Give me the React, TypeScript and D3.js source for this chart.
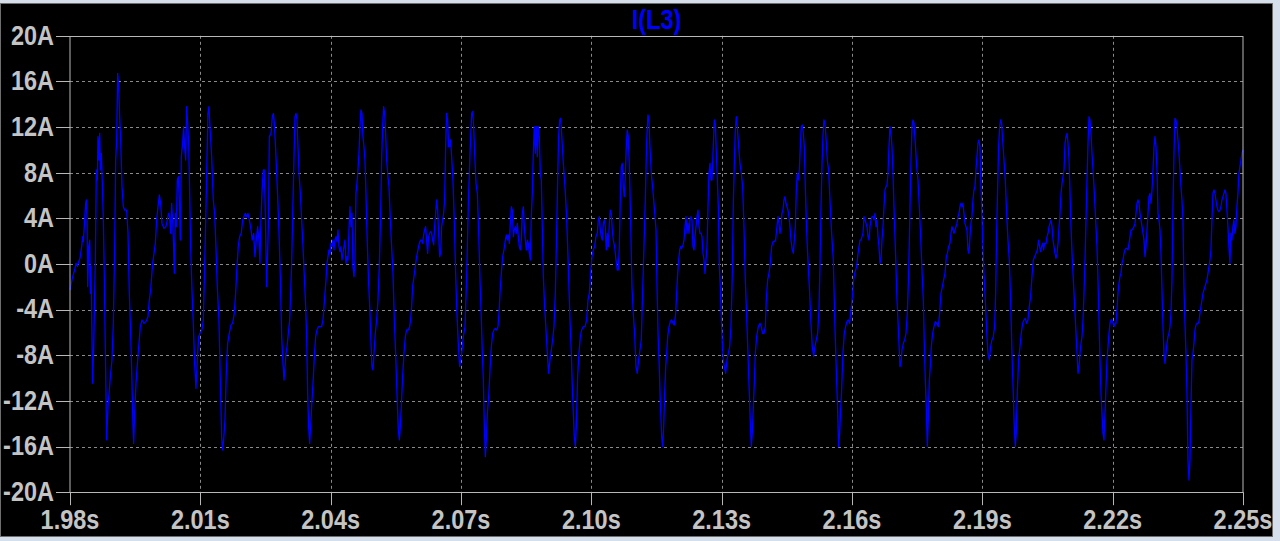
import React from 'react';
import * as d3 from 'd3';

// Time in milliseconds, current in amperes
const xTicksMs = [1980, 2010, 2040, 2070, 2100, 2130, 2160, 2190, 2220, 2250];
const yTicksA = [20, 16, 12, 8, 4, 0, -4, -8, -12, -16, -20];
const seriesName = 'I(L3)';

const seg1: [number, number][] = [
[1980.00,-2.28],[1980.15,-1.99],[1980.61,-1.11],[1981.07,-0.53],[1981.38,0.06],[1981.69,-0.23],[1981.99,0.20],[1982.30,0.50],[1982.68,1.52],[1982.91,2.40],[1983.07,1.96],[1983.37,3.86],[1983.60,5.32],[1983.76,5.61],[1983.91,4.15],[1984.07,-1.99],[1984.30,1.52],[1984.53,2.10],[1984.68,-2.57],[1984.83,-0.23],[1984.99,-4.62],[1985.22,-10.46],[1985.45,-7.25],[1985.68,-2.57],[1985.83,0.35],[1986.06,8.24],[1986.29,7.36],[1986.44,11.16],[1986.67,9.11],[1986.83,11.45],[1986.98,8.24],[1987.21,9.70],[1987.44,7.07],[1987.67,3.86],[1987.90,-1.11],[1988.13,-7.54],[1988.44,-15.42],[1988.74,-12.50],[1989.05,-11.04],[1989.36,-9.58],[1989.66,-8.41],[1989.97,-5.20],[1990.28,1.52],[1990.51,9.11],[1990.74,10.87],[1990.97,16.71],[1991.20,15.54],[1991.43,12.91],[1991.66,10.87],[1991.97,6.78],[1992.27,5.02],[1992.58,4.73],[1993.04,4.73],[1993.35,2.69],[1993.65,-2.57],[1993.96,-6.08],[1994.27,-10.46],[1994.50,-14.26],[1994.65,-15.72],[1994.88,-13.09],[1995.19,-10.46],[1995.57,-8.41],[1995.88,-6.95],[1996.18,-5.49],[1996.57,-4.91],[1997.03,-5.20],[1997.49,-5.05],[1997.95,-4.62],[1998.25,-3.16],[1998.56,-2.28],[1999.02,0.06],[1999.33,0.93],[1999.64,1.81],[1999.94,3.86],[2000.25,5.02],[2000.56,6.05],[2000.86,5.32],[2001.17,3.56],[2001.63,3.13],[2002.09,3.27],[2002.40,3.86],[2002.70,4.44],[2002.93,4.15],[2003.16,2.69],[2003.39,5.32],[2003.62,3.86],[2003.85,1.52],[2004.01,-0.82],[2004.24,4.44],[2004.47,3.27],[2004.70,7.36],[2004.93,7.65],[2005.16,5.61],[2005.39,2.10],[2005.62,9.41],[2005.92,10.58],[2006.15,12.04],[2006.38,10.28],[2006.61,9.11],[2006.85,13.79],[2007.08,12.33],[2007.31,10.58],[2007.54,6.19],[2007.77,1.52],[2008.07,-2.28],[2008.38,-5.20],[2008.69,-8.71],[2008.99,-10.90],[2009.30,-8.41],[2009.61,-6.37],[2009.91,-6.08],[2010.37,-5.78],[2010.68,-4.91],[2010.99,-0.23],[2011.29,4.73],[2011.52,9.11],[2011.75,13.20],[2011.98,13.79],[2012.21,12.04],[2012.60,9.41],[2012.98,5.61],[2013.29,4.44],[2013.59,1.52],[2013.90,-1.99],[2014.28,-4.91],[2014.67,-11.33],[2014.90,-15.13],[2015.13,-16.30],[2015.36,-15.42],[2015.67,-13.67],[2015.97,-9.58],[2016.28,-6.95],[2016.66,-6.08],[2017.05,-5.35],[2017.43,-5.20],[2017.81,-4.32],[2018.12,-2.57],[2018.43,-0.23],[2018.73,1.52],[2019.04,2.40],[2019.42,2.69],[2019.73,3.86],[2020.04,4.15],[2020.34,4.44],[2020.65,4.15],[2020.96,4.44],[2021.26,3.86],[2021.57,3.27],[2021.95,2.10],[2022.26,2.69],[2022.57,0.64],[2022.88,2.10],[2023.18,3.27],[2023.49,2.10],[2023.72,0.06],[2023.95,3.86],[2024.18,6.19],[2024.49,8.24],[2024.72,8.24]
];

const seg2: [number, number][] = [
[2024.89,5.61],[2025.27,-1.99],[2025.65,3.27],[2025.88,11.16],[2026.27,11.45],[2026.57,12.91],[2026.80,13.20],[2027.03,12.33],[2027.34,9.99],[2027.57,7.95],[2027.80,5.90],[2028.11,2.69],[2028.41,-1.11],[2028.72,-6.37],[2029.03,-8.71],[2029.26,-10.17],[2029.49,-9.00],[2029.72,-7.83],[2029.95,-7.25],[2030.25,-6.08],[2030.56,-4.91],[2030.79,-2.57],[2031.02,0.06],[2031.33,5.61],[2031.56,9.41],[2031.79,12.91],[2032.02,13.20],[2032.25,12.62],[2032.48,10.28],[2032.71,7.95],[2033.02,6.19],[2033.32,3.86],[2033.63,1.52],[2033.94,-1.11],[2034.24,-3.74],[2034.47,-6.37],[2034.70,-11.33],[2034.93,-14.26],[2035.16,-15.72],[2035.39,-14.26],[2035.62,-12.50],[2035.93,-10.46],[2036.24,-8.12],[2036.54,-6.37],[2036.85,-5.78],[2037.16,-5.49],[2037.54,-5.49],[2037.92,-5.49],[2038.23,-4.91],[2038.46,-3.74],[2038.69,-2.57],[2038.92,-1.40],[2039.15,0.06],[2039.38,0.64],[2039.61,1.23],[2039.84,0.93],[2040.07,1.81],[2040.30,1.52],[2040.53,2.10],[2040.76,1.23],[2040.99,2.10],[2041.22,2.40],[2041.45,1.96],[2041.68,2.98],[2041.91,1.52],[2042.14,1.08],[2042.37,1.52],[2042.60,0.35],[2042.83,0.93],[2043.06,1.52],[2043.29,2.10],[2043.52,0.06],[2043.75,0.64],[2043.98,0.35],[2044.21,2.98],[2044.44,5.02],[2044.67,3.27],[2044.90,4.44],[2045.13,-0.23],[2045.36,-1.11],[2045.59,0.35],[2045.82,6.19],[2046.05,7.07],[2046.28,8.24],[2046.51,9.70],[2046.74,12.04],[2046.97,13.50],[2047.20,13.20],[2047.43,11.16],[2047.66,10.28],[2047.89,9.11],[2048.12,6.19],[2048.43,1.81],[2048.74,-1.69],[2049.05,-4.32],[2049.28,-6.95],[2049.51,-9.00],[2049.74,-9.29],[2049.97,-7.83],[2050.27,-6.08],[2050.58,-4.91],[2050.89,-3.16],[2051.19,-0.23],[2051.50,4.44],[2051.73,9.11],[2051.96,12.04],[2052.19,13.79],[2052.42,13.20],[2052.65,11.45],[2052.88,9.11],[2053.11,7.95],[2053.42,6.78],[2053.73,3.86],[2054.03,1.52],[2054.34,-0.82],[2054.65,-4.91],[2054.95,-7.83],[2055.26,-11.33],[2055.57,-14.55],[2055.80,-15.42],[2056.03,-14.26],[2056.26,-12.50],[2056.56,-9.87],[2056.87,-7.83],[2057.18,-6.37],[2057.48,-5.78],[2057.87,-5.78],[2058.17,-5.49],[2058.40,-4.91],[2058.63,-3.74],[2058.86,-1.99],[2059.17,-1.11],[2059.48,-0.23],[2059.78,0.64],[2060.09,1.23],[2060.40,1.81],[2060.70,2.10],[2060.93,2.10],[2061.16,1.81],[2061.39,2.54],[2061.62,2.98],[2061.85,3.27],[2062.08,2.10],[2062.31,0.93],[2062.54,2.40],[2062.78,2.69],[2063.01,2.83],[2063.24,2.69],[2063.47,2.10],[2063.70,1.67],[2063.93,3.27],[2064.16,4.44],[2064.39,5.61],[2064.62,4.73],[2064.85,2.69],[2065.08,0.64],[2065.31,0.93],[2065.54,3.27],[2065.77,3.86],[2066.00,4.44],[2066.23,5.61],[2066.46,10.28],[2066.69,13.20],[2066.92,12.62],[2067.15,10.28],[2067.38,10.28],[2067.61,10.87],[2067.84,9.41],[2068.14,7.36],[2068.45,3.86],[2068.76,-0.82],[2069.06,-4.32],[2069.37,-6.95],[2069.68,-9.00]
];

const seg3: [number, number][] = [
[2070.15,-7.83],[2070.54,-6.37],[2070.92,-5.49],[2071.30,-1.11],[2071.69,5.32],[2072.07,9.70],[2072.45,13.20],[2072.68,13.35],[2072.91,12.04],[2073.14,9.70],[2073.45,7.07],[2073.76,6.19],[2074.07,2.69],[2074.37,-1.40],[2074.68,-4.91],[2074.91,-7.83],[2075.14,-10.17],[2075.37,-14.26],[2075.60,-16.89],[2075.83,-15.42],[2076.06,-13.09],[2076.37,-11.63],[2076.67,-9.29],[2076.98,-7.25],[2077.29,-6.08],[2077.59,-5.78],[2077.90,-5.64],[2078.21,-5.78],[2078.51,-5.49],[2078.74,-4.32],[2078.97,-2.57],[2079.28,-0.82],[2079.59,0.64],[2079.89,1.23],[2080.20,2.10],[2080.43,2.54],[2080.66,2.10],[2080.89,2.54],[2081.12,1.81],[2081.35,3.56],[2081.58,5.02],[2081.81,4.73],[2082.04,2.40],[2082.27,2.98],[2082.50,3.27],[2082.73,2.69],[2082.96,3.56],[2083.19,2.40],[2083.42,1.52],[2083.65,1.23],[2083.88,2.10],[2084.11,4.44],[2084.34,5.02],[2084.57,3.27],[2084.80,2.10],[2085.03,1.23],[2085.26,2.10],[2085.49,1.81],[2085.72,0.93],[2085.95,0.35],[2086.18,4.15],[2086.41,6.19],[2086.64,9.70],[2086.87,12.04],[2087.10,9.70],[2087.33,12.04],[2087.56,9.41],[2087.79,12.04],[2088.02,11.16],[2088.25,7.95],[2088.48,7.36],[2088.71,3.27],[2088.95,-1.11],[2089.25,-3.74],[2089.56,-5.78],[2089.87,-7.83],[2090.17,-9.58],[2090.48,-8.41],[2090.79,-7.54],[2091.09,-6.66],[2091.40,-5.49],[2091.71,-2.57],[2092.01,2.69],[2092.24,7.36],[2092.47,11.16],[2092.70,12.62],[2092.93,12.77],[2093.16,11.45],[2093.55,8.82],[2093.93,6.78],[2094.31,4.15],[2094.70,-0.23],[2095.08,-4.91],[2095.39,-7.83],[2095.62,-10.75],[2095.85,-13.09],[2096.08,-15.13],[2096.31,-16.01],[2096.54,-14.26],[2096.84,-9.87],[2097.15,-7.83],[2097.46,-6.37],[2097.77,-5.78],[2098.15,-5.49],[2098.53,-5.49],[2098.92,-4.91],[2099.22,-3.16],[2099.53,-2.57],[2099.84,-0.82],[2100.14,0.64],[2100.45,1.23],[2100.76,1.52],[2101.06,2.40],[2101.37,2.69],[2101.60,3.86],[2101.83,4.15],[2102.06,2.98],[2102.29,2.40],[2102.52,2.10],[2102.75,3.56],[2102.98,3.86],[2103.21,3.27],[2103.44,1.23],[2103.67,2.69],[2103.90,1.52],[2104.13,3.56],[2104.36,4.73],[2104.59,4.44],[2104.82,2.98],[2105.05,2.10],[2105.36,1.52],[2105.67,0.35],[2105.97,-0.53],[2106.20,-0.53],[2106.43,1.52],[2106.66,5.61],[2106.89,8.53],[2107.12,8.82],[2107.35,6.78],[2107.58,5.90],[2107.81,7.65],[2108.04,10.28],[2108.27,11.74],[2108.50,11.16],[2108.73,8.82],[2109.04,3.86],[2109.35,-1.99],[2109.65,-4.32],[2109.96,-6.08],[2110.27,-9.00],[2110.57,-9.58],[2110.88,-8.41],[2111.19,-7.54],[2111.49,-6.66],[2111.80,-2.57],[2112.11,1.52],[2112.42,5.61],[2112.72,10.58],[2113.03,13.06],[2113.26,12.62],[2113.49,10.28],[2113.80,7.95],[2114.10,6.78],[2114.41,5.32]
];

const seg4: [number, number][] = [
[2114.89,2.98],[2115.12,-1.99],[2115.35,-6.08],[2115.58,-8.41],[2115.81,-11.33],[2116.04,-13.67],[2116.19,-15.13],[2116.42,-16.01],[2116.65,-14.26],[2116.88,-11.33],[2117.11,-9.00],[2117.34,-7.83],[2117.57,-6.37],[2117.88,-5.49],[2118.18,-5.05],[2118.49,-4.91],[2118.80,-5.20],[2119.10,-5.35],[2119.41,-4.32],[2119.64,-2.57],[2119.87,-0.82],[2120.10,0.35],[2120.33,1.23],[2120.56,1.52],[2120.79,1.37],[2121.10,1.67],[2121.33,2.10],[2121.56,3.27],[2121.79,4.15],[2122.02,2.69],[2122.25,3.56],[2122.48,2.69],[2122.71,3.86],[2122.94,4.15],[2123.17,3.86],[2123.40,1.52],[2123.63,1.23],[2123.86,2.40],[2124.09,3.27],[2124.32,4.15],[2124.55,4.73],[2124.78,3.27],[2125.01,2.69],[2125.24,2.69],[2125.47,2.40],[2125.70,0.93],[2125.93,0.35],[2126.16,-0.82],[2126.39,0.35],[2126.62,1.52],[2126.85,5.02],[2127.08,7.95],[2127.31,8.82],[2127.54,7.36],[2127.77,7.36],[2128.00,9.70],[2128.31,12.62],[2128.54,12.33],[2128.77,9.70],[2129.00,7.36],[2129.23,5.02],[2129.46,-0.23],[2129.69,-1.99],[2129.92,-4.91],[2130.15,-6.95],[2130.38,-8.41],[2130.61,-9.00],[2130.92,-9.58],[2131.22,-8.41],[2131.53,-7.83],[2131.84,-7.25],[2132.14,-5.49],[2132.45,-0.82],[2132.68,5.32],[2132.91,8.82],[2133.14,11.74],[2133.37,12.91],[2133.60,12.04],[2133.91,10.28],[2134.21,8.82],[2134.52,7.95],[2134.83,6.78],[2135.13,3.27],[2135.44,-1.40],[2135.75,-4.62],[2136.05,-7.83],[2136.36,-11.33],[2136.59,-13.96],[2136.82,-16.01],[2137.05,-14.84],[2137.28,-12.50],[2137.51,-10.46],[2137.74,-7.83],[2138.05,-6.37],[2138.43,-5.49],[2138.82,-5.20],[2139.12,-5.49],[2139.43,-6.08],[2139.74,-6.08],[2140.04,-5.49],[2140.27,-3.16],[2140.58,-1.40],[2140.89,-0.82],[2141.19,0.06],[2141.50,1.52],[2141.81,1.96],[2142.11,1.96],[2142.42,2.10],[2142.73,3.27],[2142.96,4.15],[2143.19,3.56],[2143.42,2.69],[2143.65,3.27],[2143.88,4.44],[2144.11,4.73],[2144.34,5.61],[2144.57,5.90],[2144.80,5.32],[2145.03,5.02],[2145.26,4.73],[2145.49,4.15],[2145.72,3.27],[2145.95,2.10],[2146.26,1.23],[2146.49,0.93],[2146.72,2.10],[2146.95,3.27],[2147.18,6.49],[2147.41,7.95],[2147.64,7.36],[2147.87,8.24],[2148.10,10.28],[2148.33,12.04],[2148.56,12.18],[2148.79,11.45],[2149.02,10.28],[2149.25,6.78],[2149.48,3.86],[2149.71,1.52],[2149.94,-0.23],[2150.25,-2.57],[2150.55,-5.20],[2150.86,-7.25],[2151.17,-8.12],[2151.47,-7.25],[2151.78,-6.66],[2152.09,-6.08],[2152.39,-4.03],[2152.62,-0.23],[2152.85,4.73],[2153.08,8.53],[2153.31,11.16],[2153.54,12.62],[2153.77,12.33],[2154.00,11.16],[2154.31,9.11],[2154.62,8.24],[2154.92,5.61],[2155.31,2.69],[2155.69,0.35],[2156.07,-5.49],[2156.46,-10.17],[2156.69,-12.79],[2156.92,-16.01],[2157.15,-14.84],[2157.38,-12.79],[2157.61,-11.04],[2157.91,-7.83],[2158.22,-6.08],[2158.53,-5.49],[2158.83,-5.05],[2159.14,-4.91],[2159.45,-5.20]
];

const seg5: [number, number][] = [
[2160.15,-2.57],[2160.38,-1.40],[2160.61,-0.82],[2160.84,-0.53],[2161.07,-0.23],[2161.38,0.93],[2161.61,1.52],[2161.84,2.10],[2162.07,2.10],[2162.30,2.40],[2162.53,2.69],[2162.76,4.15],[2162.99,3.86],[2163.22,3.56],[2163.45,3.27],[2163.68,2.40],[2163.91,2.10],[2164.14,3.27],[2164.37,3.86],[2164.60,4.15],[2164.83,4.15],[2165.06,3.86],[2165.29,4.44],[2165.52,3.27],[2165.75,3.86],[2165.98,2.40],[2166.21,1.52],[2166.44,0.06],[2166.67,0.35],[2166.90,2.10],[2167.13,3.27],[2167.36,5.02],[2167.59,6.49],[2167.82,6.78],[2168.05,6.92],[2168.28,7.95],[2168.51,10.28],[2168.74,12.04],[2168.97,11.45],[2169.20,10.28],[2169.43,7.95],[2169.66,5.02],[2169.89,2.40],[2170.12,-0.23],[2170.35,-3.16],[2170.58,-4.91],[2170.81,-6.95],[2171.04,-9.00],[2171.27,-8.71],[2171.50,-7.54],[2171.81,-6.95],[2172.12,-6.66],[2172.43,-6.08],[2172.73,-4.32],[2173.04,-0.82],[2173.35,5.02],[2173.58,9.11],[2173.81,12.04],[2174.04,12.62],[2174.27,12.33],[2174.57,10.58],[2174.88,8.53],[2175.19,7.36],[2175.49,5.02],[2175.80,2.40],[2176.11,-0.53],[2176.41,-3.16],[2176.64,-6.95],[2176.87,-10.17],[2177.10,-12.50],[2177.33,-16.01],[2177.56,-13.67],[2177.79,-10.17],[2178.02,-9.00],[2178.25,-7.25],[2178.56,-6.08],[2178.87,-5.49],[2179.17,-5.05],[2179.48,-5.20],[2179.87,-5.49],[2180.17,-4.32],[2180.48,-2.57],[2180.79,-1.99],[2181.09,-1.40],[2181.40,-0.82],[2181.71,0.64],[2181.94,0.93],[2182.24,1.52],[2182.55,1.81],[2182.78,2.69],[2183.01,3.27],[2183.24,2.98],[2183.47,2.69],[2183.70,2.98],[2183.93,3.27],[2184.16,3.56],[2184.39,4.15],[2184.62,4.44],[2184.85,5.02],[2185.08,5.32],[2185.31,5.02],[2185.54,5.32],[2185.77,4.44],[2186.00,3.56],[2186.23,3.27],[2186.46,2.98],[2186.69,1.23],[2186.92,0.93],[2187.15,2.40],[2187.38,3.56],[2187.61,4.15],[2187.84,5.61],[2188.07,6.49],[2188.30,6.78],[2188.53,8.24],[2188.76,9.41],[2188.99,10.58],[2189.22,10.87],[2189.45,10.28],[2189.68,6.78],[2189.91,4.15],[2190.14,1.52],[2190.37,-0.82],[2190.60,-2.57],[2190.83,-4.32],[2191.06,-6.37],[2191.29,-7.83],[2191.60,-8.41],[2191.91,-7.25],[2192.21,-6.66],[2192.52,-6.37],[2192.83,-5.49],[2193.06,-2.57],[2193.29,2.69],[2193.52,6.78],[2193.75,10.28],[2193.98,12.04],[2194.21,12.62],[2194.44,12.33],[2194.67,10.87],[2194.98,9.11],[2195.28,7.36],[2195.59,4.44],[2195.90,2.10],[2196.20,0.35],[2196.51,-3.16],[2196.82,-7.83],[2197.12,-11.33],[2197.35,-14.26],[2197.58,-16.01],[2197.81,-14.84],[2198.04,-11.33],[2198.35,-8.41],[2198.66,-7.25],[2198.96,-6.08],[2199.27,-5.20],[2199.58,-4.91],[2199.88,-4.76],[2200.19,-5.20],[2200.50,-4.91],[2200.80,-3.74],[2201.11,-2.86],[2201.42,-1.11],[2201.73,0.35],[2202.03,0.64],[2202.34,0.93],[2202.65,1.23],[2202.95,2.10],[2203.18,1.52],[2203.41,1.08],[2203.64,1.52],[2203.87,1.81],[2204.10,1.23],[2204.33,1.81]
];

const seg6: [number, number][] = [
[2204.66,1.81],[2204.89,2.40],[2205.12,2.69],[2205.35,3.27],[2205.58,3.56],[2205.81,3.86],[2206.04,3.27],[2206.27,2.10],[2206.50,1.52],[2206.73,0.93],[2206.96,0.50],[2207.19,0.93],[2207.42,1.81],[2207.65,3.27],[2207.88,4.44],[2208.11,6.19],[2208.34,7.07],[2208.57,7.65],[2208.80,8.24],[2209.03,10.58],[2209.26,11.16],[2209.49,11.45],[2209.72,10.58],[2209.95,9.11],[2210.18,6.19],[2210.41,3.27],[2210.64,0.93],[2210.87,-0.82],[2211.10,-2.57],[2211.33,-4.32],[2211.56,-6.08],[2211.79,-7.83],[2212.02,-9.58],[2212.25,-9.00],[2212.48,-7.83],[2212.71,-6.95],[2212.94,-6.37],[2213.17,-4.91],[2213.40,-2.57],[2213.63,0.35],[2213.86,3.86],[2214.09,7.36],[2214.32,10.58],[2214.55,12.91],[2214.78,12.62],[2215.01,11.45],[2215.24,9.70],[2215.47,8.24],[2215.70,6.78],[2215.93,5.02],[2216.16,3.27],[2216.39,1.52],[2216.62,-1.40],[2216.85,-4.91],[2217.08,-8.41],[2217.31,-11.33],[2217.54,-13.09],[2217.77,-14.84],[2218.00,-15.42],[2218.23,-13.09],[2218.46,-10.75],[2218.69,-8.41],[2218.92,-7.25],[2219.15,-6.08],[2219.38,-5.20],[2219.61,-4.91],[2219.84,-4.91],[2220.07,-5.20],[2220.30,-5.49],[2220.53,-5.20],[2220.76,-5.20],[2220.99,-4.03],[2221.22,-2.57],[2221.45,-1.69],[2221.68,-1.11],[2221.91,-0.82],[2222.14,0.06],[2222.37,0.35],[2222.60,0.93],[2222.83,1.23],[2223.06,1.37],[2223.29,1.37],[2223.53,1.23],[2223.76,1.81],[2223.99,2.40],[2224.22,2.98],[2224.45,2.98],[2224.68,3.13],[2224.91,3.27],[2225.14,3.56],[2225.37,4.44],[2225.60,5.32],[2225.83,5.61],[2226.06,5.32],[2226.29,4.44],[2226.52,3.86],[2226.75,3.27],[2226.98,2.69],[2227.21,2.10],[2227.44,0.64],[2227.67,1.52],[2227.90,2.98],[2228.13,4.44],[2228.36,5.90],[2228.59,6.19],[2228.82,5.32],[2229.05,6.49],[2229.28,8.24],[2229.51,10.28],[2229.74,11.16],[2229.97,10.28],[2230.20,8.24],[2230.43,4.44],[2230.66,3.86],[2230.89,2.98],[2231.12,0.93],[2231.35,-2.28],[2231.58,-5.49],[2231.81,-7.83],[2232.04,-8.71],[2232.27,-7.83],[2232.50,-6.95],[2232.73,-6.37],[2232.96,-6.08],[2233.19,-5.49],[2233.42,-4.32],[2233.65,-1.40],[2233.88,5.02],[2234.11,9.70],[2234.34,12.77],[2234.57,12.62],[2234.80,12.04],[2235.03,10.87],[2235.26,9.70],[2235.49,8.24],[2235.72,6.78],[2235.95,5.61],[2236.18,3.86],[2236.41,-1.99],[2236.64,-5.20],[2236.87,-7.83],[2237.10,-11.33],[2237.33,-17.18],[2237.56,-18.93],[2237.79,-17.18],[2238.02,-12.50],[2238.25,-8.41],[2238.48,-7.83],[2238.71,-6.95],[2238.94,-5.78],[2239.17,-5.35],[2239.40,-5.20],[2239.63,-5.20],[2239.86,-5.05],[2240.09,-4.32],[2240.32,-3.74],[2240.55,-3.16],[2240.78,-2.57],[2241.01,-2.28],[2241.24,-1.99],[2241.47,-1.69],[2241.70,-1.40],[2241.93,-0.82],[2242.16,-0.23],[2242.39,0.35],[2242.62,1.23],[2242.85,3.86],[2243.08,6.19],[2243.31,6.49],[2243.54,6.19],[2243.77,5.61],[2244.00,5.02],[2244.23,4.73],[2244.46,4.59],[2244.69,4.73],[2244.92,5.02],[2245.15,5.61],[2245.38,5.90],[2245.61,6.19],[2245.84,6.49],[2246.07,6.19],[2246.30,4.73],[2246.53,3.27],[2246.76,1.52],[2246.99,0.06],[2247.22,2.69],[2247.45,2.10],[2247.68,3.27],[2247.91,3.86],[2248.14,2.69],[2248.37,3.27],[2248.60,5.02],[2248.83,6.19],[2249.06,7.95],[2249.29,8.53],[2249.52,9.11],[2249.75,9.70],[2250.00,9.99]
];

const trace: [number, number][] = [...seg1, ...seg2, ...seg3, ...seg4, ...seg5, ...seg6];

export default function App() {
  const W = 1280;
  const H = 541;
  const left = 70, right = 1243, top = 35.8, bottom = 492.2;
  const x = d3.scaleLinear().domain([1980, 2250]).range([left, right]);
  const y = d3.scaleLinear().domain([-20, 20]).range([bottom, top]);
  const line = d3.line<[number, number]>().x(d => x(d[0])).y(d => y(d[1]));
  const font = '"Liberation Sans", Arial, sans-serif';
  const txt = '#c4c4c4';
  const grid = '#8a8a8a';
  const sy = 1.18;
  const fs = 23.5;
  const fmtX = (v: number) => (v / 1000).toFixed(2) + 's';

  return (
    <svg width={W} height={H} style={{ position: 'absolute', left: 0, top: 0, display: 'block' }}>
      <rect x={0} y={0} width={W} height={H} fill="#d5dfeb" />
      <rect x={0.5} y={3.5} width={1272} height={533} fill="#000" stroke="#6e6e6e" strokeWidth={1} />
      {yTicksA.filter(v => v !== 20 && v !== -20).map(v => (
        <line key={'gy' + v} x1={left} x2={right} y1={Math.round(y(v)) + 0.5} y2={Math.round(y(v)) + 0.5}
          stroke={grid} strokeWidth={1} strokeDasharray="3,3" />
      ))}
      {xTicksMs.filter((v, i) => i !== 0 && i !== xTicksMs.length - 1).map(v => (
        <line key={'gx' + v} x1={Math.round(x(v)) + 0.5} x2={Math.round(x(v)) + 0.5} y1={top} y2={bottom}
          stroke={grid} strokeWidth={1} strokeDasharray="3,3" />
      ))}
      <path d={line(trace) || ''} fill="none" stroke="#0000ff" strokeWidth={1.3} strokeLinejoin="round" />
      <rect x={left} y={Math.round(top) + 0.5} width={right - left} height={Math.round(bottom) - Math.round(top)}
        fill="none" stroke="#b8b8b8" strokeWidth={1} />
      {yTicksA.map(v => (
        <line key={'ty' + v} x1={56} x2={left} y1={Math.round(y(v)) + 0.5} y2={Math.round(y(v)) + 0.5} stroke="#b8b8b8" strokeWidth={1} />
      ))}
      {xTicksMs.map(v => (
        <line key={'tx' + v} x1={Math.round(x(v)) + 0.5} x2={Math.round(x(v)) + 0.5} y1={bottom} y2={bottom + 13} stroke="#b8b8b8" strokeWidth={1} />
      ))}
      {yTicksA.map(v => (
        <text key={'ly' + v} transform={`translate(54,${y(v) + 8.8}) scale(1,${sy})`} textAnchor="end"
          fontFamily={font} fontWeight="bold" fontSize={fs} fill={txt}>{v + 'A'}</text>
      ))}
      {xTicksMs.map(v => (
        <text key={'lx' + v} transform={`translate(${x(v)},529) scale(1,${sy})`} textAnchor="middle"
          fontFamily={font} fontWeight="bold" fontSize={fs} fill={txt}>{fmtX(v)}</text>
      ))}
      <text transform={`translate(${(left + right) / 2},28.5) scale(1,${sy})`} textAnchor="middle"
        fontFamily={font} fontWeight="bold" fontSize={fs} fill="#0000ff">{seriesName}</text>
    </svg>
  );
}
